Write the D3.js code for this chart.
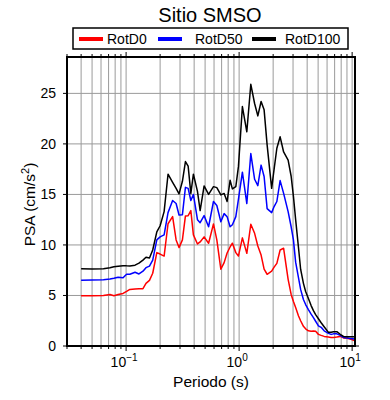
<!DOCTYPE html>
<html>
<head>
  <meta charset="utf-8">
  <title>Sitio SMSO</title>
  <style>
    body { margin: 0; background: #fff; }
    svg { display: block; font-family: "Liberation Sans", Arial, sans-serif; }
    .grid line { stroke: #9a9a9a; stroke-width: 1px; }
    .curve { fill: none; stroke-width: 1.5px; stroke-linejoin: round; }
  </style>
</head>
<body>
  <script src="https://d3js.org/d3.v7.min.js"></script>
  <script>
    // periods (s) and spectral accelerations (cm/s2)
    const periods = [0.040, 0.050, 0.063, 0.072, 0.078, 0.085, 0.094, 0.101, 0.108, 0.120,
      0.130, 0.141, 0.150, 0.161, 0.172, 0.187, 0.200, 0.217, 0.235, 0.258,
      0.277, 0.294, 0.315, 0.335, 0.354, 0.374, 0.394, 0.428, 0.452, 0.490,
      0.537, 0.593, 0.635, 0.689, 0.737, 0.783, 0.832, 0.872, 0.935, 0.986,
      1.069, 1.170, 1.269, 1.371, 1.464, 1.565, 1.664, 1.769, 1.940, 2.040,
      2.157, 2.306, 2.476, 2.714, 2.886, 3.024, 3.163, 3.348, 3.501, 3.707,
      3.876, 4.103, 4.336, 4.544, 4.753, 5.032, 5.319, 5.654, 6.172, 6.519,
      6.838, 7.321, 7.840, 8.382, 9.036, 9.604, 10.20, 10.60];

    const rotD0 = [4.98, 4.98, 5.0, 5.1, 4.98, 5.1, 5.2, 5.4, 5.6, 5.65,
      5.67, 5.67, 6.2, 6.5, 7.2, 9.24, 9.1, 8.9, 12.1, 12.8,
      10.5, 9.74, 10.5, 12.87, 12.9, 13.4, 11.0, 10.1, 10.3, 10.8,
      10.17, 12.08, 10.5, 7.6, 8.25, 9.2, 9.8, 10.17, 9.24, 8.9,
      10.7, 9.17, 12.05, 11.15, 9.9, 9.0, 7.6, 7.1, 7.4, 7.8,
      8.18, 9.5, 9.67, 6.6, 5.1, 4.4, 3.8, 3.0, 2.5, 1.95,
      1.7, 1.5, 1.45, 1.48, 1.45, 1.15, 1.05, 0.95, 0.9, 0.85,
      0.84, 0.88, 0.95, 0.8, 0.76, 0.7, 0.6, 0.52];

    const rotD50 = [6.5, 6.52, 6.55, 6.62, 6.7, 6.8, 6.75, 7.1, 7.1, 7.3,
      7.13, 7.4, 7.75, 7.9, 8.5, 10.5, 10.8, 11.0, 13.2, 14.4,
      14.1, 12.97, 13.0, 15.7, 15.6, 14.4, 15.0, 12.5, 12.2, 12.9,
      11.8, 14.3, 13.9, 12.3, 13.1, 12.8, 11.8, 12.0, 12.8, 14.5,
      17.2, 14.1, 19.04, 16.5, 15.87, 17.9, 16.77, 13.6, 13.2, 13.8,
      14.3, 16.37, 15.1, 13.3, 11.8, 10.5, 8.3, 6.8, 5.6, 4.6,
      4.1, 3.6, 3.15, 2.8, 2.45, 2.0, 1.85, 1.5, 1.25, 1.15,
      1.2, 1.2, 1.05, 0.85, 0.78, 0.75, 0.72, 0.66];

    const rotD100 = [7.65, 7.62, 7.65, 7.75, 7.85, 7.9, 7.95, 7.93, 7.92, 8.0,
      8.2, 8.5, 8.78, 8.7, 9.5, 11.3, 11.9, 13.3, 17.0, 16.2,
      15.6, 15.05, 16.3, 18.25, 17.8, 15.1, 17.0, 15.3, 13.4, 15.84,
      15.0, 15.77, 15.67, 14.95, 15.1, 14.3, 16.4, 15.55, 15.77, 17.75,
      23.7, 21.2, 25.9, 24.0, 22.77, 24.2, 23.37, 19.9, 15.6, 17.5,
      19.57, 20.7, 19.2, 18.4, 16.8, 14.8, 12.5, 9.8, 7.6, 6.2,
      5.4, 4.7, 4.0, 3.5, 3.1, 2.7, 2.3, 1.9, 1.35, 1.35,
      1.4, 1.42, 1.16, 0.95, 0.92, 0.92, 0.92, 0.9];

    const seriesNames = ["RotD0", "RotD50", "RotD100"];
    const seriesColors = ["#ff0000", "#0000ff", "#000000"];
    const yTicks = [0, 5, 10, 15, 20, 25];
    const xMajor = [0.1, 1, 10];
    const xExp = ["\u22121", "0", "1"];

    const width = 390, height = 400;
    const pl = 67, pr = 355, pt = 57, pb = 346;

    const svg = d3.select("body").append("svg")
      .attr("width", width).attr("height", height);

    const x = d3.scaleLog().domain([0.03, 10.6]).range([pl, pr]);
    const y = d3.scaleLinear().domain([0, 28.6]).range([pb, pt]);

    // minor positions 1..9 x decade inside the domain
    const xMinor = [];
    [0.01, 0.1, 1, 10].forEach(d => {
      for (let k = 1; k <= 9; k++) {
        const v = +(d * k).toPrecision(3);
        if (v >= 0.03 && v <= 10.6) xMinor.push(v);
      }
    });

    const grid = svg.append("g").attr("class", "grid");
    grid.selectAll(".gx").data(xMinor).join("line")
      .attr("x1", d => x(d)).attr("x2", d => x(d))
      .attr("y1", pt).attr("y2", pb);
    grid.selectAll(".gy").data(yTicks.slice(1)).join("line")
      .attr("x1", pl).attr("x2", pr)
      .attr("y1", d => y(d)).attr("y2", d => y(d));

    // curves
    const allSeries = [rotD0, rotD50, rotD100];
    const line = d3.line().x((d, i) => x(periods[i])).y(d => y(d));
    svg.append("clipPath").attr("id", "clip")
      .append("rect").attr("x", pl).attr("y", pt)
      .attr("width", pr - pl).attr("height", pb - pt);
    svg.append("g").attr("clip-path", "url(#clip)")
      .selectAll("path").data(allSeries).join("path")
      .attr("class", "curve")
      .attr("stroke", (d, i) => seriesColors[i])
      .attr("d", line);

    // ticks on all four sides
    const ticks = svg.append("g").attr("stroke", "#000").attr("stroke-width", 1);
    xMinor.forEach(v => {
      const len = xMajor.includes(v) ? 5 : 3;
      ticks.append("line").attr("x1", x(v)).attr("x2", x(v))
        .attr("y1", pb).attr("y2", pb + len);
      ticks.append("line").attr("x1", x(v)).attr("x2", x(v))
        .attr("y1", pt).attr("y2", pt - len);
    });
    yTicks.forEach(v => {
      ticks.append("line").attr("x1", pl - 4).attr("x2", pl)
        .attr("y1", y(v)).attr("y2", y(v));
      ticks.append("line").attr("x1", pr).attr("x2", pr + 4)
        .attr("y1", y(v)).attr("y2", y(v));
    });

    // frame
    svg.append("rect").attr("x", pl).attr("y", pt)
      .attr("width", pr - pl).attr("height", pb - pt)
      .attr("fill", "none").attr("stroke", "#000").attr("stroke-width", 2);

    // y tick labels
    svg.append("g").selectAll("text").data(yTicks).join("text")
      .attr("x", 56).attr("y", d => y(d) + 5)
      .attr("text-anchor", "end").attr("font-size", 14)
      .text(d => d);

    // x tick labels 10^n
    const xl = svg.append("g").selectAll("text").data(xMajor).join("text")
      .attr("x", d => x(d) - 2).attr("y", 367)
      .attr("text-anchor", "middle").attr("font-size", 14);
    xl.append("tspan").text("10");
    xl.append("tspan").attr("dy", -6).attr("font-size", 10)
      .text((d, i) => xExp[i]);

    // axis titles
    svg.append("text").attr("x", (pl + pr) / 2).attr("y", 387)
      .attr("text-anchor", "middle").attr("font-size", 15.5)
      .text("Periodo (s)");
    const yt = svg.append("text")
      .attr("transform", `translate(35,${(pt + pb) / 2 + 3}) rotate(-90)`)
      .attr("text-anchor", "middle").attr("font-size", 15.5);
    yt.append("tspan").text("PSA (cm/s");
    yt.append("tspan").attr("dy", -6).attr("font-size", 11).text("2");
    yt.append("tspan").attr("dy", 6).text(")");

    // title
    svg.append("text").attr("x", 210).attr("y", 22)
      .attr("text-anchor", "middle").attr("font-size", 20)
      .text("Sitio SMSO");

    // legend
    const lg = svg.append("g");
    lg.append("rect").attr("x", 73).attr("y", 28).attr("width", 275).attr("height", 21)
      .attr("fill", "#fff").attr("stroke", "#000").attr("stroke-width", 1.5);
    const swX = [79, 158, 252];
    const txX = [107, 195, 285];
    seriesNames.forEach((n, i) => {
      lg.append("line").attr("x1", swX[i]).attr("x2", swX[i] + 24)
        .attr("y1", 39).attr("y2", 39)
        .attr("stroke", seriesColors[i]).attr("stroke-width", 4);
      lg.append("text").attr("x", txX[i]).attr("y", 44)
        .attr("font-size", 14).text(n);
    });
  </script>
</body>
</html>
